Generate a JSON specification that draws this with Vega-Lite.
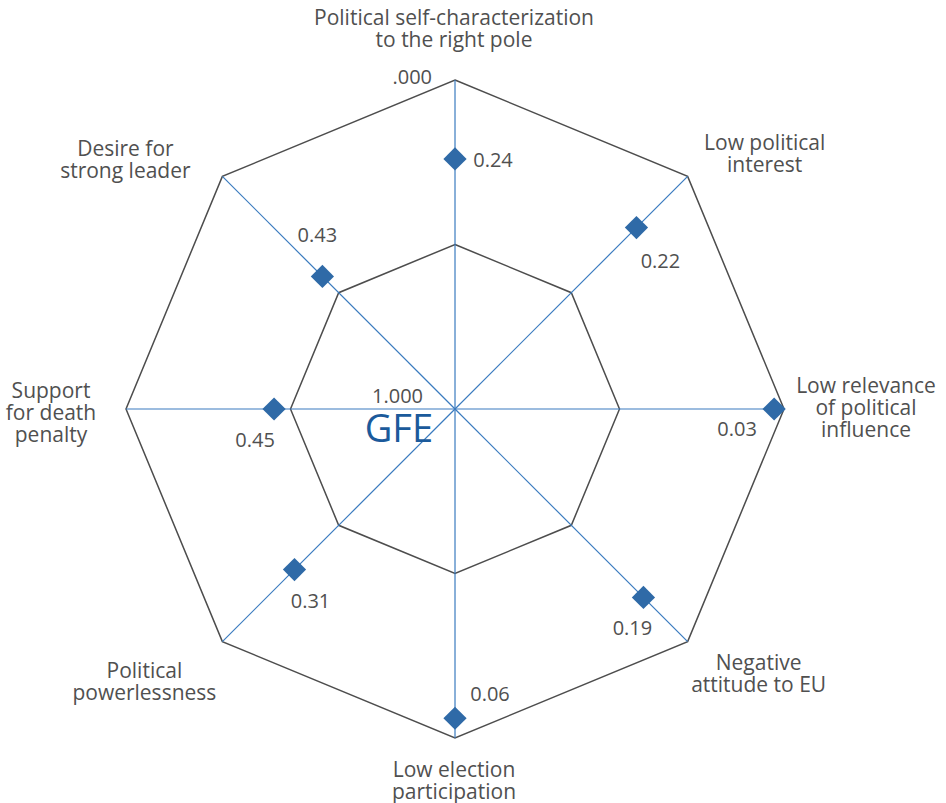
{
  "$schema": "https://vega.github.io/schema/vega-lite/v6.json",
  "width": 946,
  "height": 803,
  "padding": 0,
  "autosize": {"type": "none"},
  "config": {
    "view": {"stroke": null},
    "text": {"font": "Open Sans", "fontSize": 20, "color": "#505050"}
  },
  "data": {
    "values": [
      {"i": 0, "label": "Political self-characterization\nto the right pole", "value": 0.24},
      {"i": 1, "label": "Low political\ninterest", "value": 0.22},
      {"i": 2, "label": "Low relevance\nof political\ninfluence", "value": 0.03},
      {"i": 3, "label": "Negative\nattitude to EU", "value": 0.19},
      {"i": 4, "label": "Low election\nparticipation", "value": 0.06},
      {"i": 5, "label": "Political\npowerlessness", "value": 0.31},
      {"i": 6, "label": "Support\nfor death\npenalty", "value": 0.45},
      {"i": 7, "label": "Desire for\nstrong leader", "value": 0.43}
    ]
  },
  "transform": [
    {"calculate": "datum.i*PI/4", "as": "theta"},
    {"calculate": "sin(datum.theta)", "as": "vx"},
    {"calculate": "cos(datum.theta)", "as": "vy"},
    {"calculate": "0.5*datum.vx", "as": "hx"},
    {"calculate": "0.5*datum.vy", "as": "hy"},
    {"calculate": "(1-datum.value)*datum.vx", "as": "px"},
    {"calculate": "(1-datum.value)*datum.vy", "as": "py"}
  ],
  "layer": [
    {
      "mark": {"type": "line", "interpolate": "linear-closed", "color": "#4d4d4d", "strokeWidth": 1.5},
      "encoding": {
        "x": {"field": "vx", "type": "quantitative", "scale": {"domain": [-1.383, 1.4924], "nice": false, "zero": false}, "axis": null},
        "y": {"field": "vy", "type": "quantitative", "scale": {"domain": [-1.1976, 1.2432], "nice": false, "zero": false}, "axis": null},
        "order": {"field": "i", "type": "quantitative"}
      }
    },
    {
      "mark": {"type": "line", "interpolate": "linear-closed", "color": "#4d4d4d", "strokeWidth": 1.5},
      "encoding": {
        "x": {"field": "hx", "type": "quantitative", "scale": {"domain": [-1.383, 1.4924], "nice": false, "zero": false}, "axis": null},
        "y": {"field": "hy", "type": "quantitative", "scale": {"domain": [-1.1976, 1.2432], "nice": false, "zero": false}, "axis": null},
        "order": {"field": "i", "type": "quantitative"}
      }
    },
    {
      "mark": {"type": "rule", "color": "#3a7bbf", "strokeWidth": 1.2},
      "encoding": {
        "x": {"field": "vx", "type": "quantitative", "scale": {"domain": [-1.383, 1.4924], "nice": false, "zero": false}, "axis": null},
        "y": {"field": "vy", "type": "quantitative", "scale": {"domain": [-1.1976, 1.2432], "nice": false, "zero": false}, "axis": null},
        "x2": {"datum": 0},
        "y2": {"datum": 0}
      }
    },
    {
      "mark": {"type": "point", "shape": "diamond", "filled": true, "size": 540, "color": "#2f6aa7", "opacity": 1},
      "encoding": {
        "x": {"field": "px", "type": "quantitative", "scale": {"domain": [-1.383, 1.4924], "nice": false, "zero": false}, "axis": null},
        "y": {"field": "py", "type": "quantitative", "scale": {"domain": [-1.1976, 1.2432], "nice": false, "zero": false}, "axis": null}
      }
    },
    {"transform": [{"filter": "datum.i==0"}], "mark": {"type": "text", "dx": 38, "dy": 2},
      "encoding": {"x": {"field": "px", "type": "quantitative"}, "y": {"field": "py", "type": "quantitative"}, "text": {"field": "value", "format": ".2f"}}},
    {"transform": [{"filter": "datum.i==1"}], "mark": {"type": "text", "dx": 24, "dy": 34},
      "encoding": {"x": {"field": "px", "type": "quantitative"}, "y": {"field": "py", "type": "quantitative"}, "text": {"field": "value", "format": ".2f"}}},
    {"transform": [{"filter": "datum.i==2"}], "mark": {"type": "text", "dx": -37, "dy": 21},
      "encoding": {"x": {"field": "px", "type": "quantitative"}, "y": {"field": "py", "type": "quantitative"}, "text": {"field": "value", "format": ".2f"}}},
    {"transform": [{"filter": "datum.i==3"}], "mark": {"type": "text", "dx": -11, "dy": 32},
      "encoding": {"x": {"field": "px", "type": "quantitative"}, "y": {"field": "py", "type": "quantitative"}, "text": {"field": "value", "format": ".2f"}}},
    {"transform": [{"filter": "datum.i==4"}], "mark": {"type": "text", "dx": 35, "dy": -23},
      "encoding": {"x": {"field": "px", "type": "quantitative"}, "y": {"field": "py", "type": "quantitative"}, "text": {"field": "value", "format": ".2f"}}},
    {"transform": [{"filter": "datum.i==5"}], "mark": {"type": "text", "dx": 16, "dy": 32},
      "encoding": {"x": {"field": "px", "type": "quantitative"}, "y": {"field": "py", "type": "quantitative"}, "text": {"field": "value", "format": ".2f"}}},
    {"transform": [{"filter": "datum.i==6"}], "mark": {"type": "text", "dx": -19, "dy": 32},
      "encoding": {"x": {"field": "px", "type": "quantitative"}, "y": {"field": "py", "type": "quantitative"}, "text": {"field": "value", "format": ".2f"}}},
    {"transform": [{"filter": "datum.i==7"}], "mark": {"type": "text", "dx": -5, "dy": -40},
      "encoding": {"x": {"field": "px", "type": "quantitative"}, "y": {"field": "py", "type": "quantitative"}, "text": {"field": "value", "format": ".2f"}}},
    {"transform": [{"filter": "datum.i==0"}], "mark": {"type": "text", "fontSize": 21, "lineBreak": "\n", "lineHeight": 22, "dx": -1, "dy": -61},
      "encoding": {"x": {"field": "vx", "type": "quantitative"}, "y": {"field": "vy", "type": "quantitative"}, "text": {"field": "label"}}},
    {"transform": [{"filter": "datum.i==1"}], "mark": {"type": "text", "fontSize": 21, "lineBreak": "\n", "lineHeight": 22, "dx": 77, "dy": -32},
      "encoding": {"x": {"field": "vx", "type": "quantitative"}, "y": {"field": "vy", "type": "quantitative"}, "text": {"field": "label"}}},
    {"transform": [{"filter": "datum.i==2"}], "mark": {"type": "text", "fontSize": 21, "lineBreak": "\n", "lineHeight": 22, "dx": 82, "dy": -22},
      "encoding": {"x": {"field": "vx", "type": "quantitative"}, "y": {"field": "vy", "type": "quantitative"}, "text": {"field": "label"}}},
    {"transform": [{"filter": "datum.i==3"}], "mark": {"type": "text", "fontSize": 21, "lineBreak": "\n", "lineHeight": 22, "dx": 71, "dy": 22},
      "encoding": {"x": {"field": "vx", "type": "quantitative"}, "y": {"field": "vy", "type": "quantitative"}, "text": {"field": "label"}}},
    {"transform": [{"filter": "datum.i==4"}], "mark": {"type": "text", "fontSize": 21, "lineBreak": "\n", "lineHeight": 22, "dx": -1, "dy": 33},
      "encoding": {"x": {"field": "vx", "type": "quantitative"}, "y": {"field": "vy", "type": "quantitative"}, "text": {"field": "label"}}},
    {"transform": [{"filter": "datum.i==5"}], "mark": {"type": "text", "fontSize": 21, "lineBreak": "\n", "lineHeight": 22, "dx": -78, "dy": 30},
      "encoding": {"x": {"field": "vx", "type": "quantitative"}, "y": {"field": "vy", "type": "quantitative"}, "text": {"field": "label"}}},
    {"transform": [{"filter": "datum.i==6"}], "mark": {"type": "text", "fontSize": 21, "lineBreak": "\n", "lineHeight": 22, "dx": -75, "dy": -17},
      "encoding": {"x": {"field": "vx", "type": "quantitative"}, "y": {"field": "vy", "type": "quantitative"}, "text": {"field": "label"}}},
    {"transform": [{"filter": "datum.i==7"}], "mark": {"type": "text", "fontSize": 21, "lineBreak": "\n", "lineHeight": 22, "dx": -97, "dy": -26},
      "encoding": {"x": {"field": "vx", "type": "quantitative"}, "y": {"field": "vy", "type": "quantitative"}, "text": {"field": "label"}}},
    {"transform": [{"filter": "datum.i==0"}], "mark": {"type": "text", "align": "right", "dx": -23, "dy": -2},
      "encoding": {"x": {"datum": 0, "type": "quantitative"}, "y": {"datum": 1, "type": "quantitative"}, "text": {"value": ".000"}}},
    {"transform": [{"filter": "datum.i==0"}], "mark": {"type": "text", "align": "right", "dx": -32, "dy": -12},
      "encoding": {"x": {"datum": 0, "type": "quantitative"}, "y": {"datum": 0, "type": "quantitative"}, "text": {"value": "1.000"}}},
    {"transform": [{"filter": "datum.i==0"}], "mark": {"type": "text", "align": "right", "dx": -22, "dy": 22, "fontSize": 38, "color": "#1b5a9b"},
      "encoding": {"x": {"datum": 0, "type": "quantitative"}, "y": {"datum": 0, "type": "quantitative"}, "text": {"value": "GFE"}}}
  ]
}
